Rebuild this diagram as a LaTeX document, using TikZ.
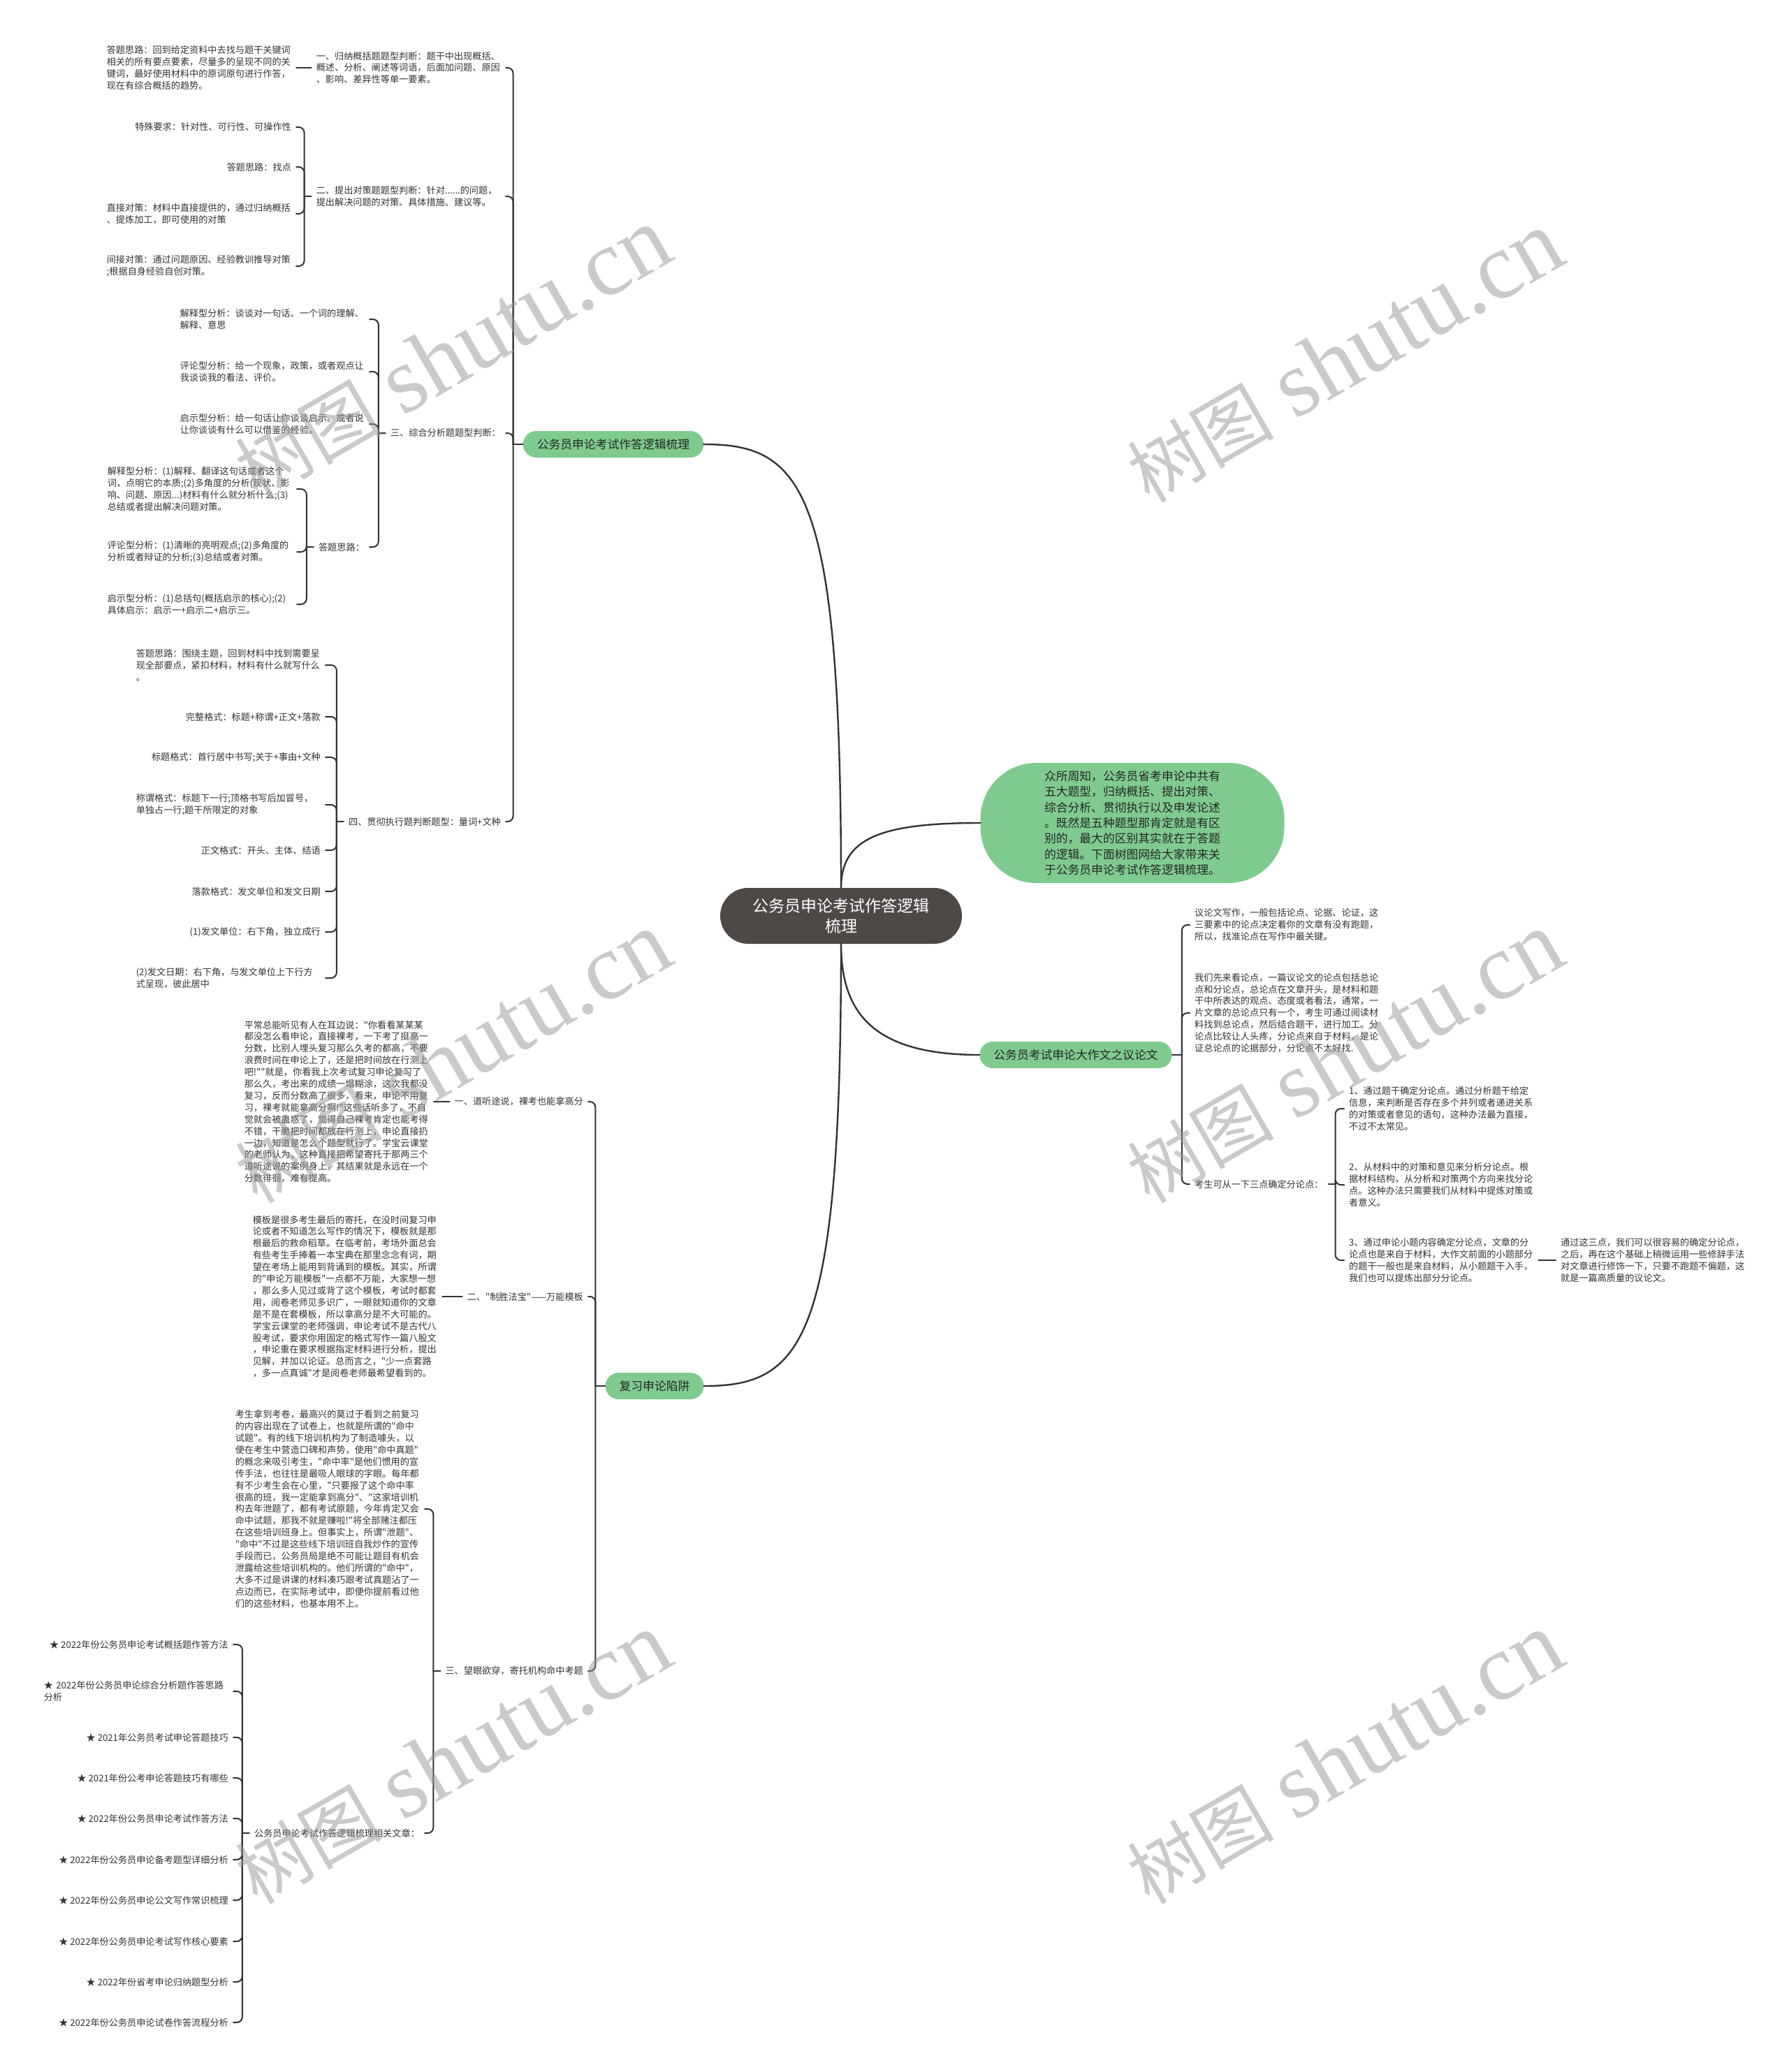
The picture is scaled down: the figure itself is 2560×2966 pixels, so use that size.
\documentclass[tikz,border=0pt]{standalone}
\usepackage{fontspec}
\defaultfontfeatures[\rmfamily]{}
\setmainfont{Noto Sans CJK SC}
\newfontfamily\wmserif{Liberation Serif}
\definecolor{linec}{RGB}{51,51,51}
\definecolor{txtc}{RGB}{51,51,51}
\definecolor{gfill}{RGB}{127,203,143}
\definecolor{gtext}{RGB}{38,38,38}
\definecolor{centerc}{RGB}{78,72,71}
\definecolor{wmc}{RGB}{150,150,150}
\begin{document}
\begin{tikzpicture}[x=1pt,y=-1pt,
  txt/.style={font=\fontsize{13.15}{16.9}\selectfont, text=txtc, align=left, inner xsep=7pt, inner ysep=2pt},
  wrapbox/.style={txt, text width=264pt},
  gnode/.style={fill=gfill, text=gtext, font=\fontsize{16.8}{22.4}\selectfont, rounded corners=19pt, minimum height=38pt, inner xsep=20pt, inner ysep=4pt},
  conn/.style={draw=linec, line width=2pt, rounded corners=8pt, line cap=round},
  mainline/.style={draw=linec, line width=2.4pt, line cap=round},
  wm/.style={text=wmc, text opacity=0.5, rotate=30, inner sep=0pt}
]
\fill[white] (0,0) rectangle (2560,2966);
\useasboundingbox (0,0) rectangle (2560,2966);

% ---------- centre ----------
\node[fill=centerc, text=white, font=\fontsize{23}{29}\selectfont, align=center, rounded corners=40pt, minimum width=346pt, minimum height=80pt] (D) at (1204,1311) {公务员申论考试作答逻辑\\梳理};

% ---------- branch A ----------
\node[gnode] (A) at (878,636) {公务员申论考试作答逻辑梳理};
\node[wrapbox, anchor=east] (A1) at (724,97) {一、归纳概括题题型判断：题干中出现概括、\\概述、分析、阐述等词语，后面加问题、原因\\、影响、差异性等单一要素。};
\node[wrapbox, anchor=east] (A2) at (724,281) {二、提出对策题题型判断：针对......的问题，\\提出解决问题的对策、具体措施、建议等。};
\node[txt, anchor=east] (A3) at (724,620) {三、综合分析题题型判断：};
\node[txt, anchor=east] (A4) at (724,1176) {四、贯彻执行题判断题型：量词+文种};

\node[wrapbox, anchor=east] (A1a) at (424,97) {答题思路：回到给定资料中去找与题干关键词\\相关的所有要点要素，尽量多的呈现不同的关\\键词，最好使用材料中的原词原句进行作答，\\现在有综合概括的趋势。};

\node[txt, anchor=east] (A2a) at (424,182) {特殊要求：针对性、可行性、可操作性};
\node[txt, anchor=east] (A2b) at (424,239) {答题思路：找点};
\node[wrapbox, anchor=east] (A2c) at (424,306) {直接对策：材料中直接提供的，通过归纳概括\\、提炼加工，即可使用的对策};
\node[wrapbox, anchor=east] (A2d) at (424,381) {间接对策：通过问题原因、经验教训推导对策\\;根据自身经验自创对策。};

\node[wrapbox, anchor=east] (A3a) at (529,457) {解释型分析：谈谈对一句话、一个词的理解、\\解释、意思};
\node[wrapbox, anchor=east] (A3b) at (529,532) {评论型分析：给一个现象，政策，或者观点让\\我谈谈我的看法、评价。};
\node[wrapbox, anchor=east] (A3c) at (529,607) {启示型分析：给一句话让你谈谈启示。或者说\\让你谈谈有什么可以借鉴的经验。};
\node[txt, anchor=east] (A3d) at (529,783) {答题思路：};
\node[wrapbox, anchor=east] (A3d1) at (425,700) {解释型分析：(1)解释、翻译这句话或者这个\\词，点明它的本质;(2)多角度的分析(现状、影\\响、问题、原因...)材料有什么就分析什么;(3)\\总结或者提出解决问题对策。};
\node[wrapbox, anchor=east] (A3d2) at (425,790) {评论型分析：(1)清晰的亮明观点;(2)多角度的\\分析或者辩证的分析;(3)总结或者对策。};
\node[wrapbox, anchor=east] (A3d3) at (425,865) {启示型分析：(1)总括句(概括启示的核心);(2)\\具体启示：启示一+启示二+启示三。};

\node[wrapbox, anchor=east] (A4a) at (466,952) {答题思路：围绕主题，回到材料中找到需要呈\\现全部要点，紧扣材料，材料有什么就写什么\\。};
\node[txt, anchor=east] (A4b) at (466,1026) {完整格式：标题+称谓+正文+落款};
\node[txt, anchor=east] (A4c) at (466,1084) {标题格式：首行居中书写;关于+事由+文种};
\node[wrapbox, anchor=east] (A4d) at (466,1152) {称谓格式：标题下一行;顶格书写后加冒号，\\单独占一行;题干所限定的对象};
\node[txt, anchor=east] (A4e) at (466,1217) {正文格式：开头、主体、结语};
\node[txt, anchor=east] (A4f) at (466,1276) {落款格式：发文单位和发文日期};
\node[txt, anchor=east] (A4g) at (466,1334) {(1)发文单位：右下角，独立成行};
\node[wrapbox, anchor=east] (A4h) at (466,1400) {(2)发文日期：右下角，与发文单位上下行方\\式呈现，彼此居中};

% ---------- branch B ----------
\node[gnode] (B) at (937,1984) {复习申论陷阱};
\node[txt, anchor=east] (B1) at (842,1577) {一、道听途说，裸考也能拿高分};
\node[txt, anchor=east] (B2) at (842,1856) {二、"制胜法宝"——万能模板};
\node[txt, anchor=east] (B3) at (842,2392) {三、望眼欲穿，寄托机构命中考题};

\node[wrapbox, anchor=east] (B1a) at (621,1577) {平常总能听见有人在耳边说："你看看某某某\\都没怎么看申论，直接裸考，一下考了挺高一\\分数，比别人埋头复习那么久考的都高，不要\\浪费时间在申论上了，还是把时间放在行测上\\吧!""就是，你看我上次考试复习申论复习了\\那么久，考出来的成绩一塌糊涂，这次我都没\\复习，反而分数高了很多，看来，申论不用复\\习，裸考就能拿高分啊!"这些话听多了，不自\\觉就会被蛊惑了，觉得自己裸考肯定也能考得\\不错，干脆把时间都放在行测上，申论直接扔\\一边，知道是怎么个题型就行了。学宝云课堂\\的老师认为，这种直接把希望寄托于那两三个\\道听途说的案例身上，其结果就是永远在一个\\分数徘徊，难有提高。};

\node[wrapbox, anchor=east] (B2a) at (633,1856) {模板是很多考生最后的寄托，在没时间复习申\\论或者不知道怎么写作的情况下，模板就是那\\根最后的救命稻草。在临考前，考场外面总会\\有些考生手捧着一本宝典在那里念念有词，期\\望在考场上能用到背诵到的模板。其实，所谓\\的"申论万能模板"一点都不万能，大家想一想\\，那么多人见过或背了这个模板，考试时都套\\用，阅卷老师见多识广，一眼就知道你的文章\\是不是在套模板，所以拿高分是不大可能的。\\学宝云课堂的老师强调，申论考试不是古代八\\股考试，要求你用固定的格式写作一篇八股文\\，申论重在要求根据指定材料进行分析，提出\\见解，并加以论证。总而言之，"少一点套路\\，多一点真诚"才是阅卷老师最希望看到的。};

\node[wrapbox, anchor=east] (B3a) at (608,2160) {考生拿到考卷，最高兴的莫过于看到之前复习\\的内容出现在了试卷上，也就是所谓的"命中\\试题"。有的线下培训机构为了制造噱头，以\\便在考生中营造口碑和声势，使用"命中真题"\\的概念来吸引考生，"命中率"是他们惯用的宣\\传手法，也往往是最吸人眼球的字眼。每年都\\有不少考生会在心里，"只要报了这个命中率\\很高的班，我一定能拿到高分"、"这家培训机\\构去年泄题了，都有考试原题，今年肯定又会\\命中试题，那我不就是赚啦!"将全部赌注都压\\在这些培训班身上。但事实上，所谓"泄题"、\\"命中"不过是这些线下培训班自我炒作的宣传\\手段而已，公务员局是绝不可能让题目有机会\\泄露给这些培训机构的。他们所谓的"命中"，\\大多不过是讲课的材料凑巧跟考试真题沾了一\\点边而已，在实际考试中，即便你提前看过他\\们的这些材料，也基本用不上。};
\node[txt, anchor=east] (B3b) at (608,2624) {公务员申论考试作答逻辑梳理相关文章：};

\node[txt, anchor=east] (L1) at (334,2354) {★ 2022年份公务员申论考试概括题作答方法};
\node[wrapbox, anchor=east] (L2) at (334,2421) {★ 2022年份公务员申论综合分析题作答思路\\分析};
\node[txt, anchor=east] (L3) at (334,2487) {★ 2021年公务员考试申论答题技巧};
\node[txt, anchor=east] (L4) at (334,2545) {★ 2021年份公考申论答题技巧有哪些};
\node[txt, anchor=east] (L5) at (334,2603) {★ 2022年份公务员申论考试作答方法};
\node[txt, anchor=east] (L6) at (334,2662) {★ 2022年份公务员申论备考题型详细分析};
\node[txt, anchor=east] (L7) at (334,2720) {★ 2022年份公务员申论公文写作常识梳理};
\node[txt, anchor=east] (L8) at (334,2779) {★ 2022年份公务员申论考试写作核心要素};
\node[txt, anchor=east] (L9) at (334,2837) {★ 2022年份省考申论归纳题型分析};
\node[txt, anchor=east] (L10) at (334,2895) {★ 2022年份公务员申论试卷作答流程分析};

% ---------- right side ----------
\node[gnode, rounded corners=80pt, minimum width=435pt, minimum height=172pt, align=left] (I) at (1621,1178) {众所周知，公务员省考申论中共有\\五大题型，归纳概括、提出对策、\\综合分析、贯彻执行以及申发论述\\。既然是五种题型那肯定就是有区\\别的，最大的区别其实就在于答题\\的逻辑。下面树图网给大家带来关\\于公务员申论考试作答逻辑梳理。};

\node[gnode] (C) at (1540,1510) {公务员考试申论大作文之议论文};
\node[wrapbox, anchor=west] (C1) at (1703,1324) {议论文写作，一般包括论点、论据、论证，这\\三要素中的论点决定着你的文章有没有跑题，\\所以，找准论点在写作中最关键。};
\node[wrapbox, anchor=west] (C2) at (1703,1450) {我们先来看论点，一篇议论文的论点包括总论\\点和分论点，总论点在文章开头，是材料和题\\干中所表达的观点、态度或者看法，通常，一\\片文章的总论点只有一个，考生可通过阅读材\\料找到总论点，然后结合题干，进行加工。分\\论点比较让人头疼，分论点来自于材料，是论\\证总论点的论据部分，分论点不太好找.};
\node[txt, anchor=west] (C3) at (1703,1695) {考生可从一下三点确定分论点：};
\node[wrapbox, anchor=west] (C3a) at (1924,1587) {1、通过题干确定分论点。通过分析题干给定\\信息，来判断是否存在多个并列或者递进关系\\的对策或者意见的语句，这种办法最为直接，\\不过不太常见。};
\node[wrapbox, anchor=west] (C3b) at (1924,1696) {2、从材料中的对策和意见来分析分论点。根\\据材料结构，从分析和对策两个方向来找分论\\点。这种办法只需要我们从材料中提炼对策或\\者意义。};
\node[wrapbox, anchor=west] (C3c) at (1924,1804) {3、通过申论小题内容确定分论点，文章的分\\论点也是来自于材料，大作文前面的小题部分\\的题干一般也是来自材料，从小题题干入手，\\我们也可以提炼出部分分论点。};
\node[wrapbox, anchor=west] (C3c1) at (2227,1804) {通过这三点，我们可以很容易的确定分论点，\\之后，再在这个基础上稍微运用一些修辞手法\\对文章进行修饰一下，只要不跑题不偏题，这\\就是一篇高质量的议论文。};

% ---------- main curves ----------
\draw[mainline] (D.north) .. controls (1204,700) and (1150,636) .. (A.east);
\draw[mainline] (D.south) .. controls (1204,1920) and (1150,1984) .. (B.east);
\draw[mainline] (D.north) .. controls (1204,1200) and (1260,1178) .. (I.west);
\draw[mainline] (D.south) .. controls (1204,1450) and (1250,1510) .. (C.west);

% ---------- branch A connectors ----------
\draw[conn] (A.west) -- ++(-14,0);
\foreach \c in {A1,A2,A3,A4} \draw[conn] (A.west) ++(-14,0) |- (\c.east);
\draw[conn] (A1.west) -- (A1a.east);
\draw[conn] (A2.west) -- ++(-10,0);
\foreach \c in {A2a,A2b,A2c,A2d} \draw[conn] (A2.west) ++(-10,0) |- (\c.east);
\draw[conn] (A3.west) -- ++(-10,0);
\foreach \c in {A3a,A3b,A3c,A3d} \draw[conn] (A3.west) ++(-10,0) |- (\c.east);
\draw[conn] (A3d.west) -- ++(-10,0);
\foreach \c in {A3d1,A3d2,A3d3} \draw[conn] (A3d.west) ++(-10,0) |- (\c.east);
\draw[conn] (A4.west) -- ++(-10,0);
\foreach \c in {A4a,A4b,A4c,A4d,A4e,A4f,A4g,A4h} \draw[conn] (A4.west) ++(-10,0) |- (\c.east);

% ---------- branch B connectors ----------
\draw[conn] (B.west) -- ++(-14,0);
\foreach \c in {B1,B2,B3} \draw[conn] (B.west) ++(-14,0) |- (\c.east);
\draw[conn] (B1.west) -- (B1a.east);
\draw[conn] (B2.west) -- (B2a.east);
\draw[conn] (B3.west) -- ++(-10,0);
\foreach \c in {B3a,B3b} \draw[conn] (B3.west) ++(-10,0) |- (\c.east);
\draw[conn] (B3b.west) -- ++(-10,0);
\foreach \c in {L1,L2,L3,L4,L5,L6,L7,L8,L9,L10} \draw[conn] (B3b.west) ++(-10,0) |- (\c.east);

% ---------- branch C connectors ----------
\draw[conn] (C.east) -- ++(14,0);
\foreach \c in {C1,C2,C3} \draw[conn] (C.east) ++(14,0) |- (\c.west);
\draw[conn] (C3.east) -- ++(10,0);
\foreach \c in {C3a,C3b,C3c} \draw[conn] (C3.east) ++(10,0) |- (\c.west);
\draw[conn] (C3c.east) -- (C3c1.west);

% ---------- watermarks ----------
\node[wm] (wm1) at (648,506) {{\fontsize{105}{105}\selectfont 树图}\hspace{30pt}{\wmserif\fontsize{135}{135}\selectfont shutu.cn}};
\node[wm] (wm2) at (1925,511) {{\fontsize{105}{105}\selectfont 树图}\hspace{30pt}{\wmserif\fontsize{135}{135}\selectfont shutu.cn}};
\node[wm] (wm3) at (648,1514) {{\fontsize{105}{105}\selectfont 树图}\hspace{30pt}{\wmserif\fontsize{135}{135}\selectfont shutu.cn}};
\node[wm] (wm4) at (1925,1514) {{\fontsize{105}{105}\selectfont 树图}\hspace{30pt}{\wmserif\fontsize{135}{135}\selectfont shutu.cn}};
\node[wm] (wm5) at (648,2517) {{\fontsize{105}{105}\selectfont 树图}\hspace{30pt}{\wmserif\fontsize{135}{135}\selectfont shutu.cn}};
\node[wm] (wm6) at (1925,2517) {{\fontsize{105}{105}\selectfont 树图}\hspace{30pt}{\wmserif\fontsize{135}{135}\selectfont shutu.cn}};
\end{tikzpicture}
\end{document}
